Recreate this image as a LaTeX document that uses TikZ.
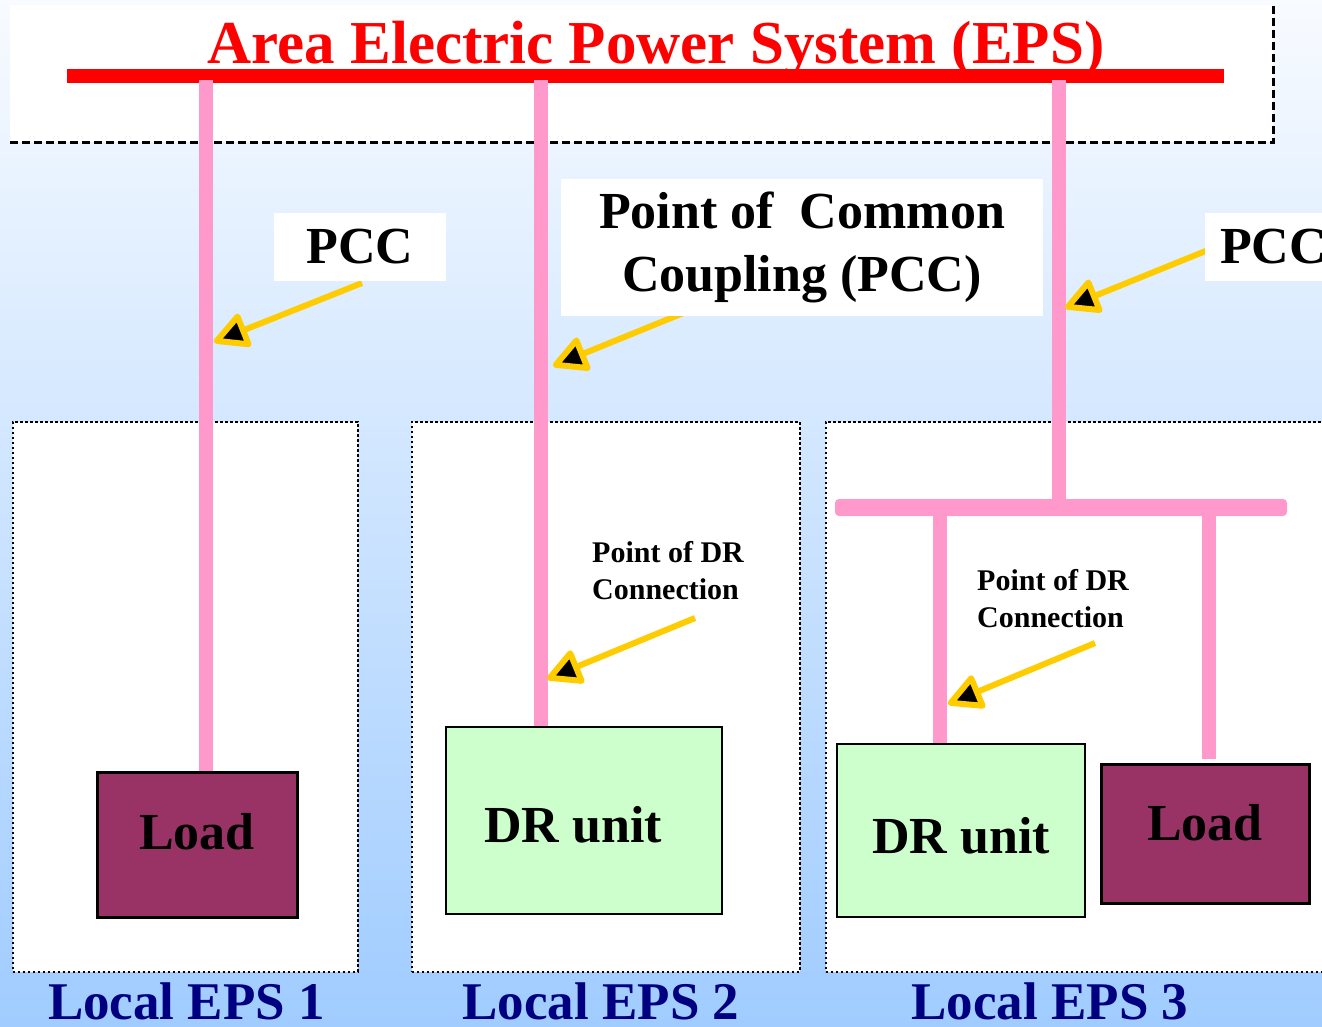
\documentclass[tikz,border=0pt]{standalone}
\usepackage{fontspec}
\setmainfont{Liberation Serif}
\usetikzlibrary{arrows.meta, positioning, calc}
\definecolor{epsred}{RGB}{255,0,0}
\definecolor{feedpink}{RGB}{255,153,204}
\definecolor{arrowgold}{RGB}{255,204,0}
\definecolor{loadplum}{RGB}{153,51,102}
\definecolor{drgreen}{RGB}{204,255,204}
\definecolor{epsnavy}{RGB}{0,0,128}
\definecolor{skytop}{RGB}{248,251,255}
\definecolor{skybot}{RGB}{160,204,255}
\newcommand{\epstitle}{\fontsize{61}{73}\selectfont\bfseries}
\newcommand{\epsbig}{\fontsize{52}{63}\selectfont\bfseries}
\newcommand{\epslocal}{\fontsize{53}{64}\selectfont\bfseries}
\newcommand{\epssmall}{\fontsize{30}{37}\selectfont\bfseries}
\tikzset{
  mainbus/.style={rectangle, fill=epsred, inner sep=0pt,
    minimum width=1157pt, minimum height=14pt},
  subbus/.style={rectangle, fill=feedpink, rounded corners=4pt, inner sep=0pt,
    minimum width=452pt, minimum height=17pt},
  feeder/.style={draw=feedpink, line width=14pt},
  areabox/.style={rectangle, fill=white, inner sep=0pt, anchor=north west},
  areadash/.style={draw=black, line width=2.5pt, dash pattern=on 8pt off 4pt},
  localbox/.style={rectangle, draw=black, fill=white, line width=1.5pt,
    dash pattern=on 2.5pt off 2.5pt, inner sep=0pt, anchor=north west,
    minimum height=550pt},
  lblbox/.style={rectangle, fill=white, inner sep=0pt, font=\epsbig},
  loadbox/.style={rectangle, draw=black, fill=loadplum, line width=3pt,
    inner sep=0pt, font=\epsbig},
  drbox/.style={rectangle, draw=black, fill=drgreen, line width=2.5pt,
    inner sep=0pt, font=\epsbig},
  drlabel/.style={align=left, inner sep=0pt, anchor=west, font=\epssmall},
  epslabel/.style={anchor=base, text=epsnavy, font=\epslocal},
  pccarrow/.style={draw=arrowgold, line width=6pt,
    -{Triangle[length=38pt, width=38pt, fill=black, line width=6pt, round]}}
}
\begin{document}
\begin{tikzpicture}[x=1pt, y=-1pt]
  \useasboundingbox (0,0) rectangle (1322,1026);
  \clip (0,0) rectangle (1322,1026);
  \shade[top color=skytop, bottom color=skybot] (0,0) rectangle (1322,1026);

  % area EPS and local EPS frames
  \node[areabox, minimum width=1263pt, minimum height=137pt] (area) at (10,5) {};
  \draw[areadash] (area.south west) -- (area.south east) -- (area.north east);
  \node[localbox, minimum width=345pt] (local1) at (12,421) {};
  \node[localbox, minimum width=388pt] (local2) at (411,421) {};
  \node[localbox, minimum width=515pt] (local3) at (825,421) {};

  % buses and equipment
  \node[mainbus] (bus) at (645.5,76) {};
  \node[subbus] (sub3) at (1061,507.5) {};
  \node[loadbox, minimum width=200pt, minimum height=145pt, text depth=26pt] (load1) at (197,844.5) {Load};
  \node[drbox, minimum width=276pt, minimum height=187pt, text height=44pt] (dr2) at (584,820.5) {DR unit\hspace*{22pt}};
  \node[drbox, minimum width=248pt, minimum height=173pt, text height=46pt] (dr3) at (961,830.5) {DR unit};
  \node[loadbox, minimum width=208pt, minimum height=139pt, text depth=22pt] (load3) at (1205,833.5) {Load};

  \coordinate (tap1) at (206,80);
  \coordinate (tap2) at (541,80);
  \coordinate (tap3) at (1059,80);
  \coordinate (tap3a) at (940,507);
  \coordinate (tap3b) at (1208.5,507);
  \draw[feeder] (tap1) -- (tap1 |- load1.north);
  \draw[feeder] (tap2) -- (tap2 |- dr2.north);
  \draw[feeder] (tap3) -- (tap3 |- sub3.center);
  \draw[feeder] (tap3a) -- (tap3a |- dr3.north);
  \draw[feeder] (tap3b) -- ($(tap3b |- load3.north)+(0,-4)$);

  \node[anchor=base, font=\epstitle, text=epsred] (title) at (656,63) {Area Electric Power System (EPS)};

  % pointers
  \coordinate (a1s) at (362,283);  \coordinate (a1t) at (214,342);
  \coordinate (a2s) at (703,305);  \coordinate (a2t) at (553,366);
  \coordinate (a3s) at (1213,248); \coordinate (a3t) at (1065,308);
  \coordinate (a4s) at (695,618);  \coordinate (a4t) at (547,679);
  \coordinate (a5s) at (1095,643); \coordinate (a5t) at (948,704);
  \foreach \a in {1,...,5}
    \draw[pccarrow] (a\a s) -- (a\a t);

  % labels
  \node[lblbox, minimum width=172pt, minimum height=68pt] (pcc1) at (360,247) {PCC};
  \node[lblbox, minimum width=482pt, minimum height=137pt, align=center] (pcc2) at (802,247.5) {Point of~ Common\\Coupling (PCC)};
  \node[lblbox, minimum height=68pt, inner xsep=15pt, anchor=west] (pcc3) at (1205,247) {PCC};
  \node[drlabel] (conn2) at (592,571) {Point of DR\\Connection};
  \node[drlabel] (conn3) at (977,599) {Point of DR\\Connection};

  \node[epslabel] (eps1) at (186.5,1019) {Local EPS 1};
  \node[epslabel] (eps2) at (601,1019) {Local EPS 2};
  \node[epslabel] (eps3) at (1050,1019) {Local EPS 3};
\end{tikzpicture}
\end{document}
